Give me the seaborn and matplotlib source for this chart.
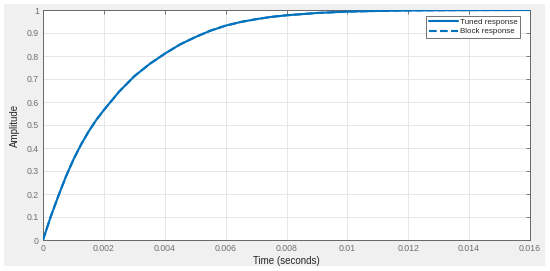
import matplotlib
matplotlib.use("Agg")
import matplotlib.pyplot as plt
import seaborn as sns
import pandas as pd
from matplotlib.patches import Rectangle

time_s = [0, 0.00025, 0.0005, 0.00075, 0.001, 0.00125, 0.0015, 0.00175, 0.002,
          0.0025, 0.003, 0.0035, 0.004, 0.0045, 0.005, 0.0055, 0.006, 0.0065,
          0.007, 0.0075, 0.008, 0.009, 0.01, 0.011, 0.012, 0.013, 0.014, 0.016]
amplitude = [0, 0.10, 0.19, 0.275, 0.35, 0.415, 0.472, 0.522, 0.565,
             0.645, 0.712, 0.765, 0.81, 0.85, 0.882, 0.91, 0.932, 0.948,
             0.96, 0.97, 0.977, 0.987, 0.993, 0.996, 0.998, 0.999, 0.9995, 1.0]
x_ticks = [0, 0.002, 0.004, 0.006, 0.008, 0.01, 0.012, 0.014, 0.016]
x_tick_labels = ["0", "0.002", "0.004", "0.006", "0.008", "0.01", "0.012", "0.014", "0.016"]
y_ticks = [0, 0.1, 0.2, 0.3, 0.4, 0.5, 0.6, 0.7, 0.8, 0.9, 1]
y_tick_labels = ["0", "0.1", "0.2", "0.3", "0.4", "0.5", "0.6", "0.7", "0.8", "0.9", "1"]

df = pd.DataFrame({"Time": time_s, "Amplitude": amplitude})

sns.set_style("white")
plt.rcParams["font.family"] = ["Liberation Sans", "DejaVu Sans"]

W, H = 550, 271
fig = plt.figure(figsize=(5.5, 2.71), dpi=100, facecolor="white")
# grey window panel behind the axes
fig.patches.append(Rectangle((4 / W, 1 - 266 / H), 541 / W, 262 / H,
                             transform=fig.transFigure, facecolor="#f0f0f0",
                             edgecolor="none", zorder=-10))
ax = fig.add_axes([43 / W, 1 - 240 / H, 487 / W, 230 / H])
ax.set_zorder(5)
ax.set_facecolor("white")

blue = "#0072bd"
sns.lineplot(data=df, x="Time", y="Amplitude", ax=ax, color=blue, lw=1.5,
             linestyle="--", label="Block response", zorder=2)
sns.lineplot(data=df, x="Time", y="Amplitude", ax=ax, color=blue, lw=1.5,
             label="Tuned response", zorder=3)

ax.set_xlim(0, 0.016)
ax.set_ylim(0, 1)
ax.set_xticks(x_ticks)
ax.set_xticklabels(x_tick_labels)
ax.set_yticks(y_ticks)
ax.set_yticklabels(y_tick_labels)
ax.grid(True, color="#e6e6e6", lw=0.7)
ax.tick_params(direction="in", length=3, width=0.6, colors="#666666",
               labelsize=6.3, labelcolor="#707070", top=True, right=True,
               labeltop=False, labelright=False, pad=3)
for s in ax.spines.values():
    s.set_color("#666666")
    s.set_linewidth(0.7)

ax.set_xlabel("Time (seconds)", fontsize=7, color="#262626", labelpad=2)
ax.set_ylabel("Amplitude", fontsize=7, color="#262626", labelpad=5)

handles, labels = ax.get_legend_handles_labels()
order = [labels.index("Tuned response"), labels.index("Block response")]
leg = ax.legend([handles[i] for i in order], [labels[i] for i in order],
                loc="upper right", bbox_to_anchor=(0.98, 0.975), fontsize=5.8,
                frameon=True, fancybox=False, edgecolor="#333333",
                handlelength=3.6, handletextpad=0.2, borderpad=0.35,
                labelspacing=0.2, borderaxespad=0)
leg.get_frame().set_linewidth(0.6)

fig.savefig("out.png", dpi=100, facecolor=fig.get_facecolor())
